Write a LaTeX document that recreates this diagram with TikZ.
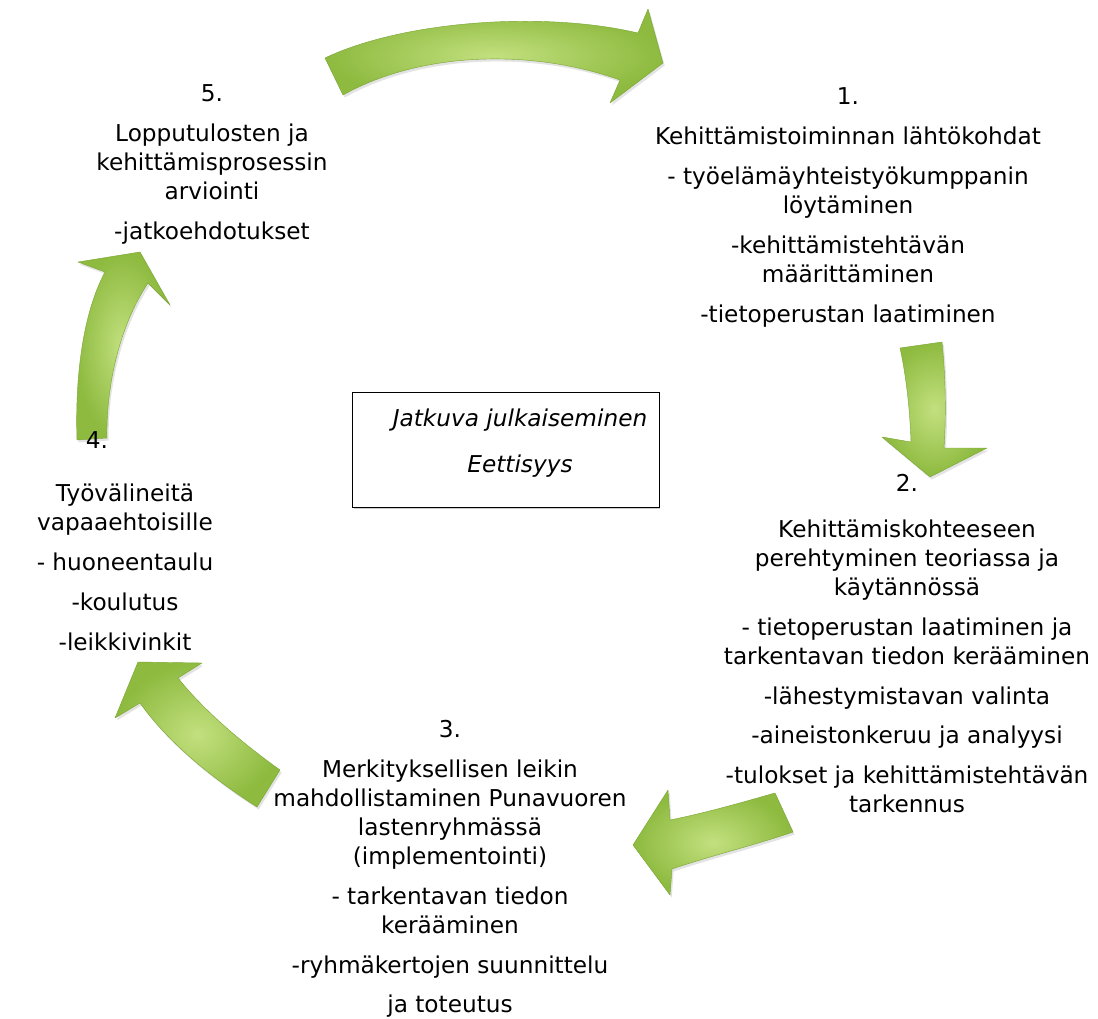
\documentclass[tikz,border=0pt]{standalone}
\usepackage{fontspec}
\setmainfont{DejaVu Sans}
\usetikzlibrary{shadows}
\definecolor{arrowlight}{HTML}{C3E07F}
\definecolor{arrowdark}{HTML}{8DBA3F}
\definecolor{arrowedge}{HTML}{7AA533}
\newcommand{\lnstrut}{\rule{0pt}{13.2pt}}
\tikzset{
  greenarrow/.style={shading=radial, inner color=arrowlight, outer color=arrowdark,
    draw=arrowedge, line width=0.3pt, line join=round,
    drop shadow={shadow xshift=1.2pt, shadow yshift=-1.8pt, opacity=0.22}},
  steptext/.style={anchor=north, align=center, inner sep=0pt,
    font=\fontsize{16.5}{20.55}\selectfont},
}

\begin{document}
\begin{tikzpicture}[x=0.025cm, y=-0.025cm]
\useasboundingbox (0,0) rectangle (1098,1019);

% arrows of the cycle
\path[greenarrow] (325,58) .. controls (400,22) and (540,10) .. (638,33)
  -- (648,9) -- (663,63) -- (610,103) -- (620,80)
  .. controls (530,48) and (420,52) .. (343,95) -- cycle;
\path[greenarrow] (900,348) -- (942,342) .. controls (946,380) and (946,420) .. (944,448)
  -- (987,448) -- (930,477) -- (882,437) -- (911,442)
  .. controls (910,410) and (906,375) .. (900,348) -- cycle;
\path[greenarrow] (775,793) -- (793,832) .. controls (755,845) and (710,856) .. (672,869)
  -- (670,895) -- (633,845) -- (668,790) -- (670,820)
  .. controls (710,812) and (750,800) .. (775,793) -- cycle;
\path[greenarrow] (280,770) -- (257,807) .. controls (215,780) and (170,745) .. (140,703)
  -- (115,718) -- (138,662) -- (202,663) -- (178,678)
  .. controls (205,712) and (245,745) .. (280,770) -- cycle;
\path[greenarrow] (77,440) .. controls (75,380) and (82,315) .. (105,272)
  -- (78,262) -- (140,252) -- (170,305) -- (148,283)
  .. controls (120,325) and (106,385) .. (107,438) -- cycle;

% phases
\node[steptext] (phase1) at (848,86) {\lnstrut 1.\\[7.8pt]
  Kehittämistoiminnan lähtökohdat\\[7.8pt]
  - työelämäyhteistyökumppanin\\ löytäminen\\[7.8pt]
  -kehittämistehtävän\\ määrittäminen\\[7.8pt]
  -tietoperustan laatiminen};
\node[steptext] (phase2) at (907,473) {\lnstrut 2.\\[12pt]
  Kehittämiskohteeseen\\ perehtyminen teoriassa ja\\ käytännössä\\[7.8pt]
  - tietoperustan laatiminen ja\\ tarkentavan tiedon kerääminen\\[7.8pt]
  -lähestymistavan valinta\\[7.8pt]
  -aineistonkeruu ja analyysi\\[7.8pt]
  -tulokset ja kehittämistehtävän\\ tarkennus};
\node[steptext] (phase3) at (450,719) {\lnstrut 3.\\[7.8pt]
  Merkityksellisen leikin\\ mahdollistaminen Punavuoren\\ lastenryhmässä\\ (implementointi)\\[7.8pt]
  - tarkentavan tiedon\\ kerääminen\\[7.8pt]
  -ryhmäkertojen suunnittelu\\[7.8pt]
  ja toteutus};
\node[steptext] (num4) at (97,430) {\lnstrut 4.};
\node[steptext] (phase4) at (125,483) {\lnstrut Työvälineitä\\ vapaaehtoisille\\[7.8pt]
  - huoneentaulu\\[7.8pt]
  -koulutus\\[7.8pt]
  -leikkivinkit};
\node[steptext] (phase5) at (212,83) {\lnstrut 5.\\[7.8pt]
  Lopputulosten ja\\ kehittämisprosessin\\ arviointi\\[7.8pt]
  -jatkoehdotukset};

% centre box
\node[draw, line width=0.9pt, fill=white, minimum width=218pt, minimum height=82pt,
  inner sep=0pt, drop shadow={shadow xshift=0.8pt, shadow yshift=-0.8pt, opacity=0.4}]
  (midbox) at (506,450) {};
\node[steptext, font=\fontsize{16.5}{20.55}\selectfont\itshape] (midtext) at (520,408)
  {\lnstrut Jatkuva julkaiseminen\\[12pt] Eettisyys};
\end{tikzpicture}
\end{document}
